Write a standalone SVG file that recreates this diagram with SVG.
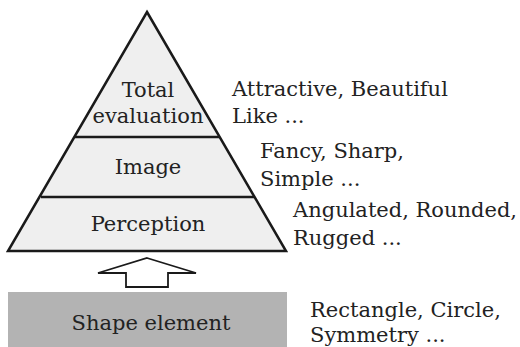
<svg xmlns="http://www.w3.org/2000/svg" width="520" height="347" viewBox="0 0 520 347">
<style>
text{font-family:"DejaVu Serif","Liberation Serif",serif;font-size:21px;fill:#222}
.c{text-anchor:middle}
.lvl{fill:#efefef;stroke:none}
.ln{stroke:#1a1a1a;stroke-width:2.5;fill:none;stroke-linejoin:miter}
</style>
<rect width="520" height="347" fill="#fff"/>
<g id="pyramid">
<polygon class="lvl" points="147,12 286,251 8,251"/>
<polygon class="ln" points="147,12 286,251 8,251"/>
</g>
<g id="total-evaluation">
<text class="c" x="148" y="97">Total</text>
<text class="c" x="148" y="123">evaluation</text>
</g>
<g id="image">
<text class="c" x="148" y="174">Image</text>
</g>
<g id="perception">
<text class="c" x="148" y="231">Perception</text>
</g>
<g id="shape-element">
<rect x="8" y="292" width="279" height="55" fill="#b3b3b3"/>
<text class="c" x="151" y="330">Shape element</text>
</g>
<g id="labels">
<text x="232" y="96">Attractive, Beautiful</text>
<text x="232" y="123">Like ...</text>
<text x="260" y="158">Fancy, Sharp,</text>
<text x="260" y="186">Simple ...</text>
<text x="293" y="217">Angulated, Rounded,</text>
<text x="293" y="245">Rugged ...</text>
<text x="310" y="317">Rectangle, Circle,</text>
<text x="310" y="342">Symmetry ...</text>
</g>
<g id="connectors">
<line class="ln" x1="75" y1="137" x2="220" y2="137"/>
<line class="ln" x1="41" y1="197" x2="254" y2="197"/>
<polygon points="147,258 196,273 168,273 168,287 126,287 126,273 98,273" fill="#fff" stroke="#1a1a1a" stroke-width="1.8"/>
</g>
</svg>
